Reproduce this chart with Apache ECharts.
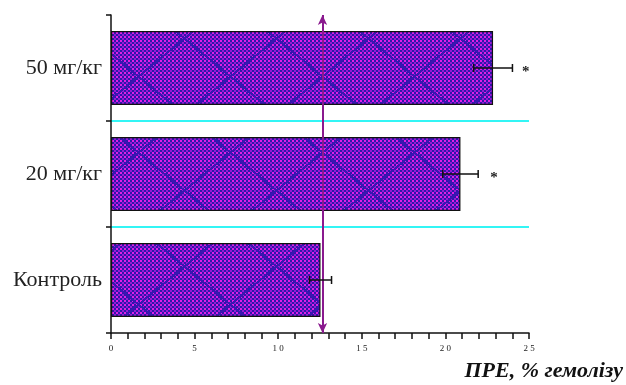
<!DOCTYPE html>
<html><head><meta charset="utf-8">
<script src="https://cdn.jsdelivr.net/npm/echarts@6/dist/echarts.min.js"></script>
<style>html,body{margin:0;padding:0;background:#fff}#c{width:626px;height:385px}</style>
</head><body><div id="c"></div>
<script>
var categories = ['Контроль', '20 мг/кг', '50 мг/кг'];
var values = [12.53, 20.9, 22.85];
var errors = [0.66, 1.06, 1.16];
var stars = [null, 22.9, 24.8];
var refValue = 12.65;
var xTicks = [0, 5, 10, 15, 20, 25];

function makePattern() {
  var w = 92, h = 76;
  var cv = document.createElement('canvas');
  cv.width = w; cv.height = h;
  var ctx = cv.getContext('2d');
  var img = ctx.createImageData(w, h);
  for (var y = 0; y < h; y++) {
    for (var x = 0; x < w; x++) {
      var d = Math.abs(x - w / 2) / (w / 2) + Math.abs(y - h / 2) / (h / 2);
      var onLine = Math.abs(d - 1) < 0.035;
      var cx = Math.floor(x / 2), cy = Math.floor(y / 2);
      var mag = !onLine && ((cx + cy) % 2 === 0) && (cy % 2 === 0);
      var k = (y * w + x) * 4;
      var c;
      if (mag) c = [225, 30, 230];
      else if (onLine) c = [58, 22, 178];
      else if ((cx + cy) % 2 === 0) c = [150, 25, 215];
      else c = [48, 22, 170];
      img.data[k] = c[0]; img.data[k + 1] = c[1]; img.data[k + 2] = c[2];
      img.data[k + 3] = 255;
    }
  }
  ctx.putImageData(img, 0, 0);
  return cv;
}

var chart = echarts.init(document.getElementById('c'), null, {renderer: 'canvas'});
var errData = values.map(function (v, i) { return [v - errors[i], v + errors[i], i]; });
var starData = stars.map(function (s, i) { return s == null ? null : [s, i]; }).filter(Boolean);

chart.setOption({
  animation: false,
  grid: {left: 111, right: 97, top: 15, bottom: 52},
  xAxis: {
    type: 'value', min: 0, max: 25, interval: 5,
    axisLine: {show: true, lineStyle: {color: '#111', width: 1.5}},
    axisTick: {show: true, length: 6, lineStyle: {color: '#111', width: 1.5}},
    minorTick: {show: true, splitNumber: 5, length: 6, lineStyle: {color: '#111', width: 1.5}},
    splitLine: {show: false},
    axisLabel: {
      fontFamily: 'Liberation Serif', fontSize: 9, color: '#222', margin: 11,
      formatter: function (v) { return xTicks.indexOf(v) >= 0 ? String(v).split('').join(' ') : ''; }
    }
  },
  yAxis: {
    type: 'category', data: categories, boundaryGap: true,
    axisLine: {show: true, lineStyle: {color: '#111', width: 1.5}},
    axisTick: {show: true, length: 5, lineStyle: {color: '#111', width: 1.5}},
    splitLine: {show: true, showMinLine: false, showMaxLine: false, lineStyle: {color: '#33f5f5', width: 2}},
    axisLabel: {fontFamily: 'Liberation Serif', fontSize: 22, color: '#222', margin: 9}
  },
  series: [
    {
      type: 'bar', data: values, barWidth: 74,
      itemStyle: {color: {image: makePattern(), repeat: 'repeat'}, borderColor: '#111', borderWidth: 1.2},
      markLine: {
        silent: true, symbol: ['arrow', 'arrow'], symbolSize: [7, 10],
        label: {show: false},
        lineStyle: {color: '#8a1a8e', width: 2, type: 'solid'},
        data: [{xAxis: refValue}]
      },
      z: 2
    },
    {
      type: 'custom', data: errData, z: 5,
      renderItem: function (params, api) {
        var a = api.coord([api.value(0), api.value(2)]);
        var b = api.coord([api.value(1), api.value(2)]);
        var c = 4;
        return {type: 'group', children: [
          {type: 'line', shape: {x1: a[0], y1: a[1], x2: b[0], y2: b[1]}, style: {stroke: '#111', lineWidth: 1.5}},
          {type: 'line', shape: {x1: a[0], y1: a[1] - c, x2: a[0], y2: a[1] + c}, style: {stroke: '#111', lineWidth: 1.5}},
          {type: 'line', shape: {x1: b[0], y1: b[1] - c, x2: b[0], y2: b[1] + c}, style: {stroke: '#111', lineWidth: 1.5}}
        ]};
      }
    },
    {
      type: 'custom', data: starData, z: 6,
      renderItem: function (params, api) {
        var p = api.coord([api.value(0), api.value(1)]);
        return {type: 'text', x: p[0], y: p[1] + 4, style: {text: '*', fontFamily: 'Liberation Serif', fontWeight: 'bold', fontSize: 15, fill: '#222', align: 'center', verticalAlign: 'middle'}};
      }
    }
  ],
  graphic: [{
    type: 'text', right: 3, top: 360,
    style: {text: 'ПРЕ, % гемолізу', fontFamily: 'Liberation Serif', fontSize: 22, fontWeight: 'bold', fontStyle: 'italic', fill: '#111'}
  }]
});
</script></body></html>
